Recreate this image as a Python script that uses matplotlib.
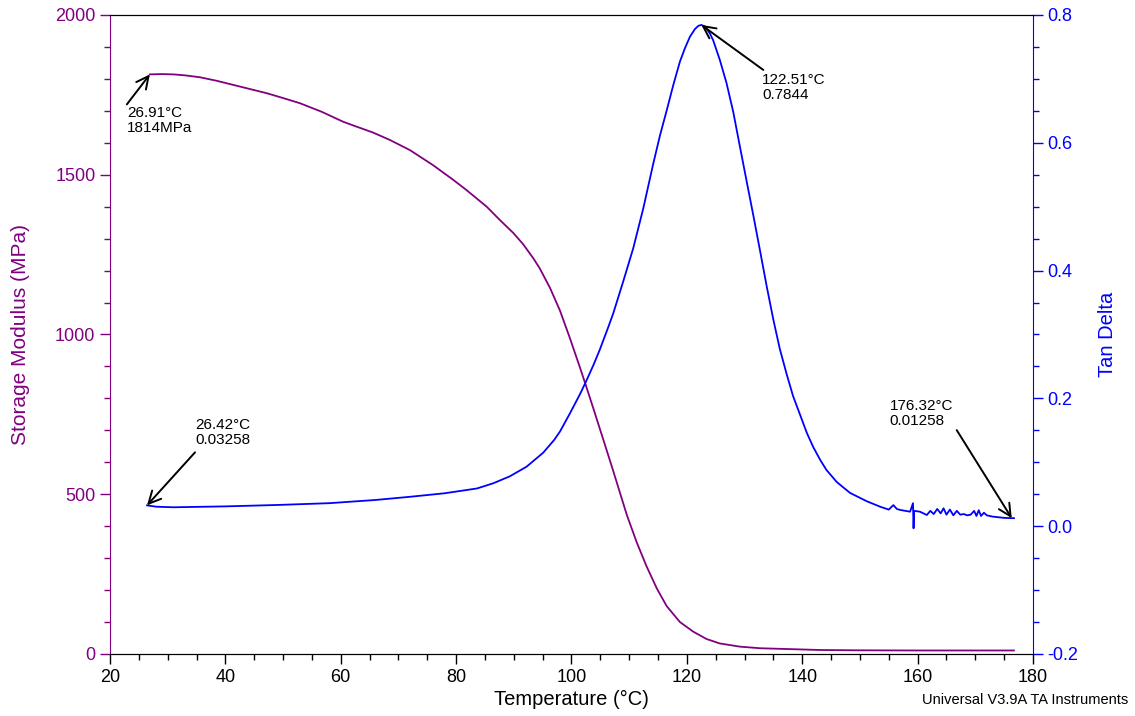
import numpy as np
import matplotlib
matplotlib.use('Agg')
import matplotlib.pyplot as plt
from matplotlib.ticker import MultipleLocator, FormatStrFormatter

plt.rcParams['font.family'] = ['Liberation Sans', 'DejaVu Sans']

# storage modulus (MPa) vs temperature
temp_e = [26.9, 29, 31, 33, 35.6, 38.5, 41.4, 44.3, 47.2, 50, 52.9, 56.7, 60.4, 62.2,
          65.6, 68.5, 72.0, 76.0, 79.5, 81.8, 85.3, 87.6, 89.9, 91.6, 93.4, 94.5,
          96.3, 98.0, 99.7, 101.5, 102.6, 103.8, 105.5, 107.2, 109.6, 111.3, 113.0,
          114.8, 116.5, 118.8, 121.1, 123.4, 125.7, 129.2, 132.7, 138.4, 143.1, 150,
          160, 170, 176.7]
modulus = [1814, 1815, 1814, 1811, 1805, 1794, 1781, 1768, 1755, 1740, 1724, 1697,
           1666, 1654, 1632, 1609, 1577, 1530, 1484, 1452, 1400, 1358, 1318, 1283,
           1238, 1207, 1145, 1075, 990, 895, 835, 768, 672, 575, 435, 350, 275, 205,
           150, 100, 70, 47, 33, 23, 18, 15, 12.5, 11.5, 11, 11, 11]

# tan delta vs temperature
temp_t = [26.42, 28, 31, 40, 49, 58, 66, 72, 78, 83.6, 86.4, 89.3, 92.2, 95.1, 97.0,
          98.0, 99.7, 101.5, 102.6, 103.8, 104.9, 106.4, 107.24, 108.97, 110.71,
          112.44, 114.17, 115.33, 116.49, 117.64, 118.80, 119.67, 120.54, 121.40,
          122.0, 122.51, 123.14, 124.00, 124.58, 125.74, 126.89, 128.05, 129.20,
          130.36, 131.51, 132.67, 133.83, 135.0, 136.1, 137.3, 138.4, 139.6, 140.8,
          141.9, 143.1, 144.2, 146, 148.3, 151.2, 153.5, 155, 155.8, 156.4, 157,
          158.7, 159.2, 159.3, 159.4, 160.4, 161.6, 162.2, 162.8, 163.4, 164.0,
          164.5, 165.0, 165.6, 166.2, 166.8, 167.4, 168.0, 168.6, 169.2, 169.8,
          170.2, 170.6, 171.0, 171.5, 172.0, 173.0, 174.0, 175.0, 176.32, 176.7]
tan_delta = [0.0326, 0.0305, 0.0296, 0.031, 0.0332, 0.036, 0.041, 0.046, 0.0515,
             0.059, 0.067, 0.078, 0.093, 0.115, 0.135, 0.148, 0.176, 0.207, 0.228,
             0.252, 0.276, 0.312, 0.333, 0.383, 0.435, 0.497, 0.567, 0.611, 0.650,
             0.690, 0.727, 0.748, 0.766, 0.778, 0.783, 0.7844, 0.782, 0.771, 0.760,
             0.729, 0.693, 0.648, 0.594, 0.540, 0.487, 0.432, 0.376, 0.323, 0.278,
             0.238, 0.204, 0.175, 0.146, 0.124, 0.104, 0.088, 0.069, 0.052, 0.039,
             0.0305, 0.026, 0.033, 0.027, 0.0254, 0.0227, 0.036, -0.0033, 0.024,
             0.0227, 0.0175, 0.024, 0.019, 0.027, 0.020, 0.028, 0.018, 0.026, 0.017,
             0.024, 0.018, 0.019, 0.017, 0.018, 0.024, 0.016, 0.025, 0.016, 0.021,
             0.017, 0.015, 0.014, 0.013, 0.0126, 0.0126]

purple = '#800080'
blue = '#0000FF'

fig = plt.figure(figsize=(11.35, 7.16), dpi=100)
ax = fig.add_axes([0.0969, 0.0866, 0.8132, 0.8925])
ax2 = ax.twinx()

ax.plot(temp_e, modulus, color=purple, lw=1.3)
ax2.plot(temp_t, tan_delta, color=blue, lw=1.3)

ax.set_xlim(20, 180)
ax.set_ylim(0, 2000)
ax2.set_ylim(-0.2, 0.8)

ax.xaxis.set_major_locator(MultipleLocator(20))
ax.xaxis.set_minor_locator(MultipleLocator(5))
ax.yaxis.set_major_locator(MultipleLocator(500))
ax.yaxis.set_minor_locator(MultipleLocator(100))
ax2.yaxis.set_major_locator(MultipleLocator(0.2))
ax2.yaxis.set_minor_locator(MultipleLocator(0.05))
ax2.yaxis.set_major_formatter(FormatStrFormatter('%.1f'))

ax.tick_params(axis='x', which='major', length=7, width=1, labelsize=13, direction='out')
ax.tick_params(axis='x', which='minor', length=4, width=1, direction='out')
ax.tick_params(axis='y', which='major', length=7, width=1, labelsize=13, colors=purple)
ax.tick_params(axis='y', which='minor', length=4, width=1, colors=purple)
ax2.tick_params(axis='y', which='major', length=7, width=1, labelsize=13, colors=blue)
ax2.tick_params(axis='y', which='minor', length=4, width=1, colors=blue)

ax.spines['left'].set_color(purple)
ax2.spines['left'].set_visible(False)
ax2.spines['right'].set_color(blue)
ax.spines['right'].set_visible(False)

ax.set_xlabel('Temperature (°C)', fontsize=14.5, labelpad=3)
ax.set_ylabel('Storage Modulus (MPa)', fontsize=15, color=purple, labelpad=18)
ax2.set_ylabel('Tan Delta', fontsize=14.5, color=blue, labelpad=14)

arrow = dict(arrowstyle='->', color='black', lw=1.4, mutation_scale=22, shrinkA=0, shrinkB=0)

# modulus maximum
ax.annotate('', xy=(26.91, 1814), xytext=(-23, -30), textcoords='offset pixels', arrowprops=arrow)
ax.annotate('26.91°C\n1814MPa', xy=(26.91, 1814), xytext=(-23, -32), textcoords='offset pixels',
            ha='left', va='top', fontsize=11, linespacing=1.1)

# tan delta start
ax2.annotate('', xy=(26.42, 0.0326), xytext=(48, 53), textcoords='offset pixels', arrowprops=arrow)
ax2.annotate('26.42°C\n0.03258', xy=(26.42, 0.0326), xytext=(48, 58), textcoords='offset pixels',
             ha='left', va='bottom', fontsize=11, linespacing=1.1)

# tan delta peak
ax2.annotate('', xy=(122.51, 0.7844), xytext=(62, -45), textcoords='offset pixels', arrowprops=arrow)
ax2.annotate('122.51°C\n0.7844', xy=(122.51, 0.7844), xytext=(61, -48), textcoords='offset pixels',
             ha='left', va='top', fontsize=11, linespacing=1.1)

# tan delta end
ax2.annotate('', xy=(176.32, 0.0126), xytext=(-55, 88), textcoords='offset pixels', arrowprops=arrow)
ax2.annotate('176.32°C\n0.01258', xy=(176.32, 0.0126), xytext=(-122, 90), textcoords='offset pixels',
             ha='left', va='bottom', fontsize=11, linespacing=1.1)

fig.text(0.9938, 0.013, 'Universal V3.9A TA Instruments', ha='right', va='bottom', fontsize=10.5)

fig.savefig('out.png', dpi=100)
